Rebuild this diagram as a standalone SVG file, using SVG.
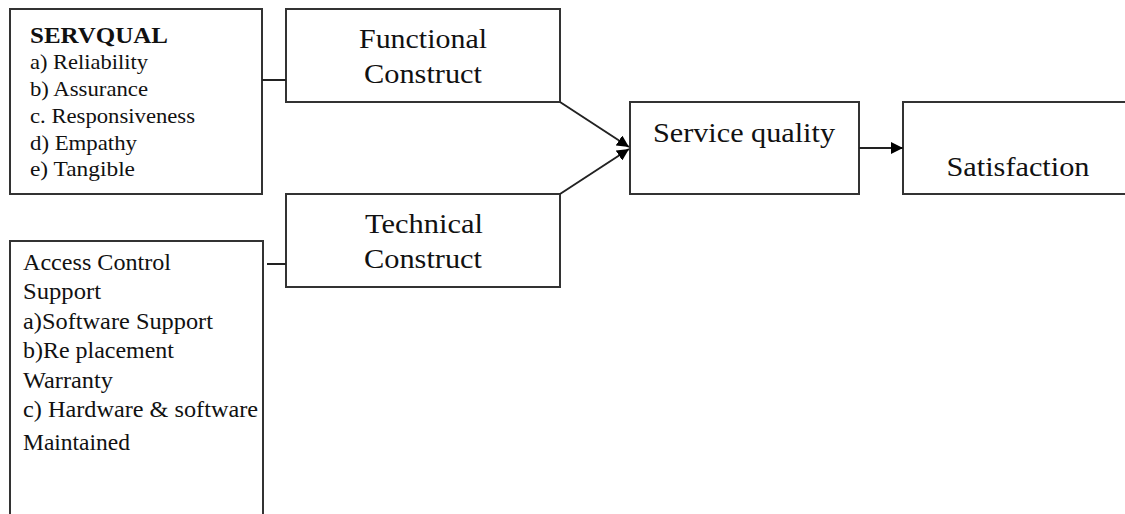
<svg xmlns="http://www.w3.org/2000/svg" width="1125" height="514" viewBox="0 0 1125 514">
<style>
.box{fill:#fff;stroke:#333;stroke-width:2}
.t{font-family:"Liberation Serif","Times New Roman",serif;fill:#111}
.s{font-size:22px}
.l{font-size:23px}
.b{font-size:24px;font-weight:bold}
.m{font-size:28px;text-anchor:middle}
.c{stroke:#222;stroke-width:2;fill:none}
</style>
<defs>
<marker id="ah" viewBox="0 0 12 12" refX="12" refY="6" markerWidth="12" markerHeight="12" markerUnits="userSpaceOnUse" orient="auto">
<path d="M0,0 L12,6 L0,12 Z" fill="#000"/>
</marker>
</defs>
<rect width="1125" height="514" fill="#fff"/>
<g id="servqual">
<rect class="box" x="10" y="9" width="252" height="185"/>
<text class="t b" x="30" y="43" textLength="138" lengthAdjust="spacingAndGlyphs">SERVQUAL</text>
<text class="t s" x="30" y="69" textLength="118" lengthAdjust="spacingAndGlyphs">a) Reliability</text>
<text class="t s" x="30" y="96" textLength="118" lengthAdjust="spacingAndGlyphs">b) Assurance</text>
<text class="t s" x="30" y="123" textLength="165" lengthAdjust="spacingAndGlyphs">c. Responsiveness</text>
<text class="t s" x="30" y="150" textLength="107" lengthAdjust="spacingAndGlyphs">d) Empathy</text>
<text class="t s" x="30" y="176" textLength="105" lengthAdjust="spacingAndGlyphs">e) Tangible</text>
</g>
<g id="access">
<path class="box" d="M10,516 V241 H263 V516"/>
<text class="t l" x="23" y="270" textLength="148" lengthAdjust="spacingAndGlyphs">Access Control</text>
<text class="t l" x="23" y="299" textLength="78" lengthAdjust="spacingAndGlyphs">Support</text>
<text class="t l" x="23" y="329" textLength="190" lengthAdjust="spacingAndGlyphs">a)Software Support</text>
<text class="t l" x="23" y="358" textLength="151" lengthAdjust="spacingAndGlyphs">b)Re placement</text>
<text class="t l" x="23" y="388" textLength="90" lengthAdjust="spacingAndGlyphs">Warranty</text>
<text class="t l" x="23" y="417" textLength="235" lengthAdjust="spacingAndGlyphs">c) Hardware &amp; software</text>
<text class="t l" x="23" y="450" textLength="107" lengthAdjust="spacingAndGlyphs">Maintained</text>
</g>
<g id="functional">
<rect class="box" x="286" y="9" width="274" height="93"/>
<text class="t m" x="423" y="48" textLength="128" lengthAdjust="spacingAndGlyphs">Functional</text>
<text class="t m" x="423" y="83" textLength="118" lengthAdjust="spacingAndGlyphs">Construct</text>
</g>
<g id="technical">
<rect class="box" x="286" y="194" width="274" height="93"/>
<text class="t m" x="424" y="233" textLength="118" lengthAdjust="spacingAndGlyphs">Technical</text>
<text class="t m" x="423" y="268" textLength="118" lengthAdjust="spacingAndGlyphs">Construct</text>
</g>
<g id="service">
<rect class="box" x="630" y="102" width="229" height="92"/>
<text class="t m" x="744" y="142" textLength="182" lengthAdjust="spacingAndGlyphs">Service quality</text>
</g>
<g id="satisfaction">
<rect class="box" x="903" y="102" width="240" height="92"/>
<text class="t m" x="1018" y="176" textLength="143" lengthAdjust="spacingAndGlyphs">Satisfaction</text>
</g>
<g id="connectors">
<line class="c" x1="262" y1="80" x2="286" y2="80"/>
<line class="c" x1="267" y1="264" x2="286" y2="264"/>
<line class="c" x1="560" y1="102" x2="629" y2="147" marker-end="url(#ah)"/>
<line class="c" x1="560" y1="194" x2="629" y2="149" marker-end="url(#ah)"/>
<line class="c" x1="859" y1="148" x2="903" y2="148" marker-end="url(#ah)"/>
</g>
</svg>
